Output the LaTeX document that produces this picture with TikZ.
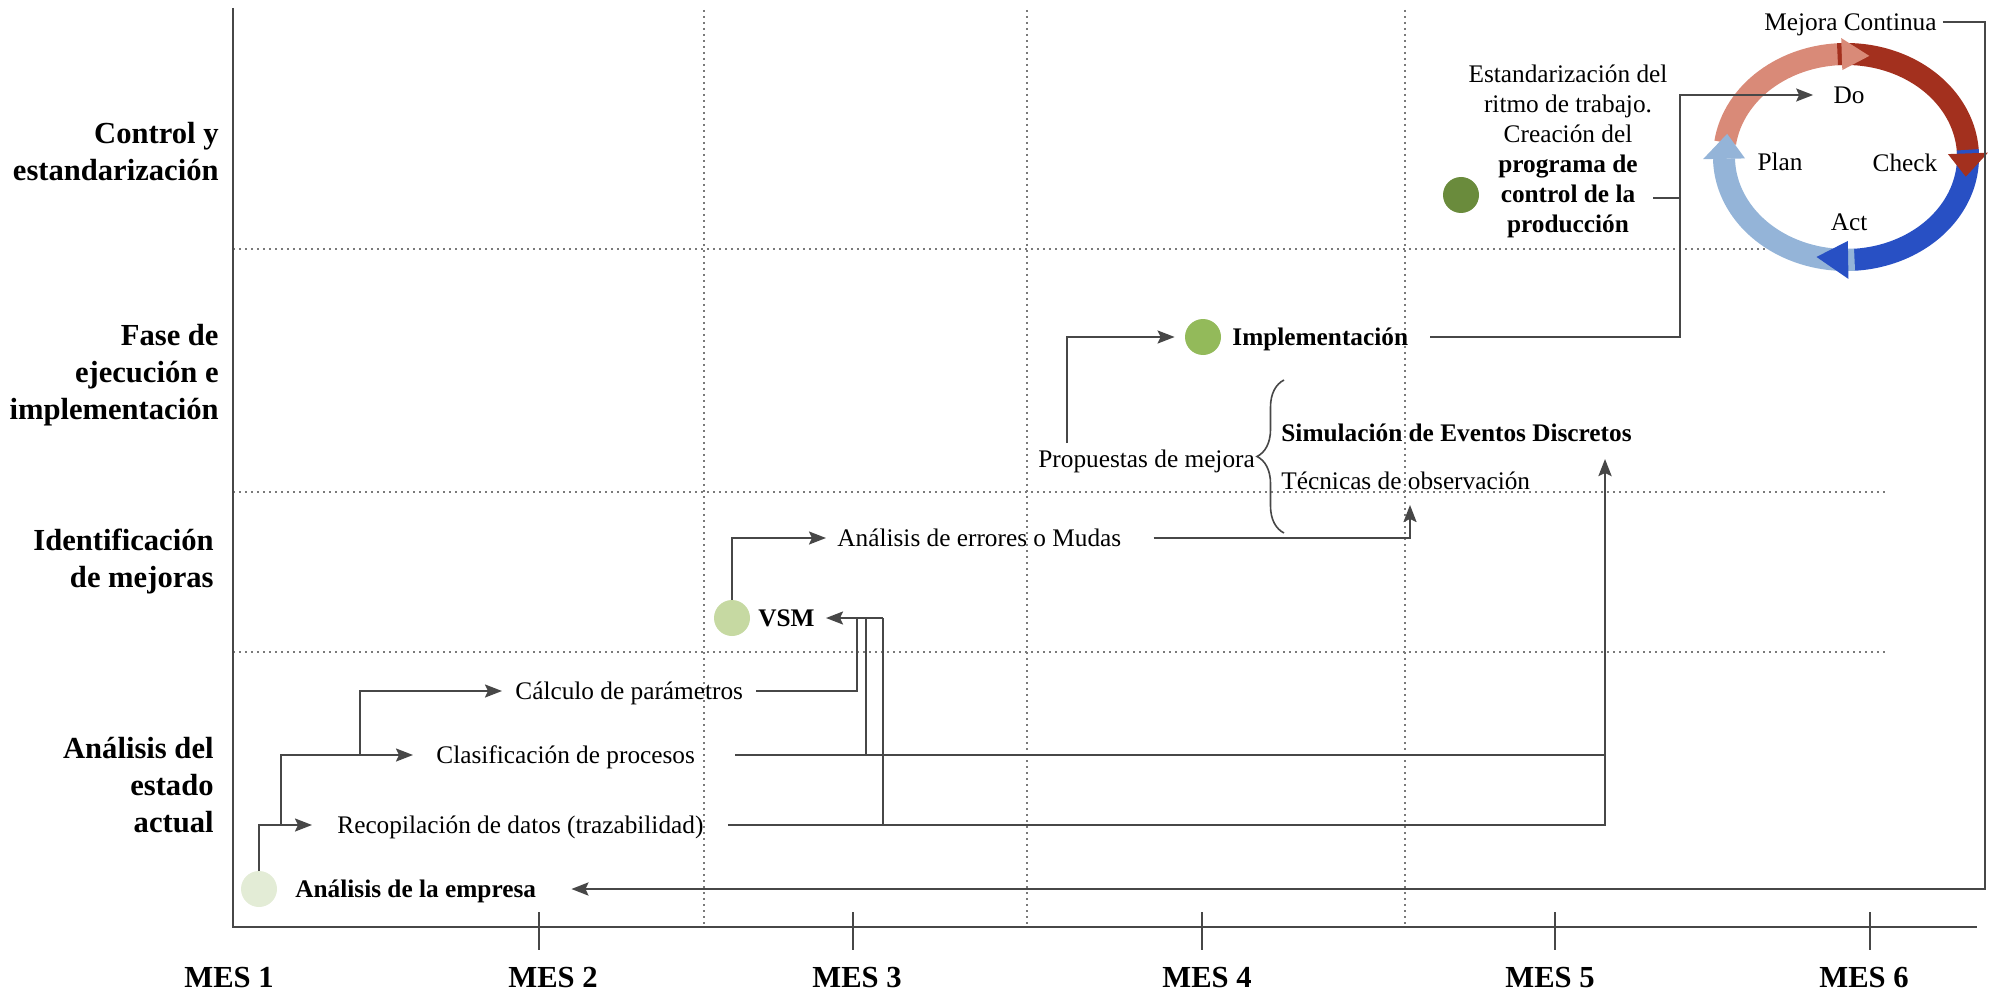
\documentclass[tikz,border=0pt]{standalone}
\usepackage{fontspec}
\setmainfont{Liberation Serif}
\usetikzlibrary{arrows.meta,decorations.pathreplacing}

\definecolor{ink}{HTML}{474747}
\definecolor{guideclr}{HTML}{7A7A7A}
\definecolor{dotA}{HTML}{E3ECD6}
\definecolor{dotB}{HTML}{C6D9A2}
\definecolor{dotC}{HTML}{93BA5A}
\definecolor{dotD}{HTML}{6A8B3C}
\definecolor{pdcaDo}{HTML}{D98A78}
\definecolor{pdcaCheck}{HTML}{A3301E}
\definecolor{pdcaAct}{HTML}{2850C4}
\definecolor{pdcaPlan}{HTML}{94B4D8}

\begin{document}
\begin{tikzpicture}[x=0.5pt, y=-0.5pt,
  item/.style={inner sep=0pt, anchor=west, text height=8.6pt, text depth=0pt,
    font=\fontsize{12.65pt}{15.2pt}\selectfont},
  bitem/.style={item, font=\fontsize{12.65pt}{15.2pt}\selectfont\bfseries},
  block/.style={inner sep=0pt, align=center, font=\fontsize{12.65pt}{15pt}\selectfont},
  phase/.style={inner sep=0pt, anchor=east, align=right,
    font=\fontsize{15.3pt}{18.5pt}\selectfont\bfseries},
  month/.style={inner sep=0pt, font=\fontsize{15.3pt}{18pt}\selectfont\bfseries},
  milestone/.style={circle, inner sep=0pt, minimum size=18pt},
  conn/.style={draw=ink, line width=1pt},
  heavy/.style={draw=ink, line width=1.4pt},
  arr/.style={-{Stealth[length=8.5pt,width=6.5pt,inset=1.5pt]}},
  guide/.style={draw=guideclr, line width=0.7pt, dash pattern=on 0.8pt off 2.2pt},
  axis/.style={draw=ink, line width=1.4pt},
  tickmark/.style={draw=ink, line width=0.8pt},
  ring/.style={line width=11pt},
]
\useasboundingbox (0,0) rectangle (1996,1000);

% phase separators and month separators
\draw[guide] (233,249) -- (1776,249);
\draw[guide] (233,492) -- (1885,492);
\draw[guide] (233,652) -- (1885,652);
\draw[guide] (704,10) -- (704,927);
\draw[guide] (1027,10) -- (1027,927);
\draw[guide] (1405,10) -- (1405,927);

% axes
\draw[axis] (233,8) -- (233,927) -- (1977,927);
\foreach \tx in {539,853,1202,1555,1870}
  \draw[tickmark] (\tx,912) -- (\tx,950);

% phase labels
\node[phase] (ph1) at (219,152) {Control y\\estandarización};
\node[phase] (ph2) at (219,375) {Fase de\\ejecución e\\implementación};
\node[phase] (ph3) at (214,561) {Identificación\\de mejoras};
\node[phase] (ph4) at (214,785) {Análisis del\\estado\\actual};

% month labels
\node[month] (m1) at (229,978) {MES 1};
\node[month] (m2) at (553,978) {MES 2};
\node[month] (m3) at (857,978) {MES 3};
\node[month] (m4) at (1207,978) {MES 4};
\node[month] (m5) at (1550,978) {MES 5};
\node[month] (m6) at (1864,978) {MES 6};

% milestones
\node[milestone, fill=dotA] (empc) at (259,889) {};
\node[milestone, fill=dotB] (vsmc) at (732,618) {};
\node[milestone, fill=dotC] (implc) at (1203,337) {};
\node[milestone, fill=dotD] (ctrlc) at (1461,195) {};

% activities
\node[bitem] (emp) at (295,889) {Análisis de la empresa};
\node[item] (rec) at (337,825) {Recopilación de datos (trazabilidad)};
\node[item] (cla) at (436,755) {Clasificación de procesos};
\node[item] (cal) at (515,691) {Cálculo de parámetros};
\node[bitem] (vsm) at (758,618) {VSM};
\node[item] (err) at (837,538) {Análisis de errores o Mudas};
\node[item] (prop) at (1038,459) {Propuestas de mejora};
\node[bitem] (sim) at (1281,433) {Simulación de Eventos Discretos};
\node[item] (tec) at (1281,481) {Técnicas de observación};
\node[bitem] (impl) at (1232,337) {Implementación};
\node[block] (std) at (1568,151) {Estandarización del\\ritmo de trabajo.\\Creación del\\
  \textbf{programa de}\\\textbf{control de la}\\\textbf{producción}};
\node[item] (mej) at (1764,22) {Mejora Continua};

% current-state analysis chain
\draw[conn,arr] (empc.north) |- ([xshift=-12.5pt]rec.west);
\coordinate (brA) at (281,825);
\draw[conn,arr] (brA) |- ([xshift=-11.5pt]cla.west);
\coordinate (brB) at (360,755);
\draw[conn,arr] (brB) |- ([xshift=-6.5pt]cal.west);

% collectors into VSM
\coordinate (vjA) at (857,618);
\coordinate (vjB) at (866,618);
\coordinate (vjC) at (883,618);
\draw[conn] ([xshift=6.5pt]cal.east) -| (vjA);
\draw[conn] (vjB) -- (vjB |- cla.east);
\draw[conn] (vjC) -- (vjC |- rec.east);
\draw[conn,arr] (vjC) -- ([xshift=5.5pt]vsm.east);

% long runs into the simulation
\coordinate (simtip) at (1605,459);
\draw[heavy] ([xshift=20pt]cla.east) -- (simtip |- cla.east);
\draw[heavy,arr] ([xshift=12pt]rec.east) -| (simtip);

% improvement identification
\draw[conn,arr] (vsmc.north) |- ([xshift=-5.5pt]err.west);
\coordinate (tectip) at (1410,505);
\draw[conn,arr] ([xshift=16pt]err.east) -| (tectip);

% proposals
\coordinate (propup) at (1067,443);
\draw[conn,arr] (propup) |- ([xshift=-5pt]implc.west);
\draw[conn, line width=0.8pt, decorate, decoration={brace, amplitude=13.5pt}]
  (1284,533) -- (1284,380);

% PDCA cycle
\begin{scope}[shift={(1846,157)}, yscale=-1]
  \draw[pdcaDo, ring] (172:122 and 103) arc[start angle=172, end angle=91, x radius=122, y radius=103];
  \draw[pdcaCheck, ring] (94:122 and 103) arc[start angle=94, end angle=1, x radius=122, y radius=103];
  \draw[pdcaAct, ring] (4:122 and 103) arc[start angle=4, end angle=-89, x radius=122, y radius=103];
  \draw[pdcaPlan, ring] (-86:122 and 103) arc[start angle=-86, end angle=-179, x radius=122, y radius=103];
  \fill[pdcaDo] (92:106 and 87) -- (92:138 and 119) -- (79:122 and 103) -- cycle;
  \fill[pdcaCheck] (2:102 and 83) -- (2:142 and 123) -- (-11:122 and 103) -- cycle;
  \fill[pdcaAct] (-89:103 and 84) -- (-89:141 and 122) -- (-104:122 and 103) -- cycle;
  \fill[pdcaPlan] (181:101 and 82) -- (181:143 and 124) -- (167:122 and 103) -- cycle;
\end{scope}
\node[item, anchor=center] (pdo) at (1849,95) {Do};
\node[item, anchor=center] (pplan) at (1780,162) {Plan};
\node[item, anchor=center] (pcheck) at (1905,163) {Check};
\node[item, anchor=center] (pact) at (1849,222) {Act};

% implementation into the cycle
\coordinate (kcorner) at (1680,95);
\draw[conn,arr] ([xshift=11pt]impl.east) -| (kcorner) -- ([xshift=-10pt]pdo.west);
\coordinate (stdout) at (1653,198);
\draw[conn] (stdout) -- (stdout -| kcorner);

% continuous improvement feedback
\coordinate (rcorner) at (1985,889);
\draw[heavy,arr] ([xshift=3pt]mej.east) -| (rcorner) -- ([xshift=17.5pt]emp.east);
\end{tikzpicture}
\end{document}
